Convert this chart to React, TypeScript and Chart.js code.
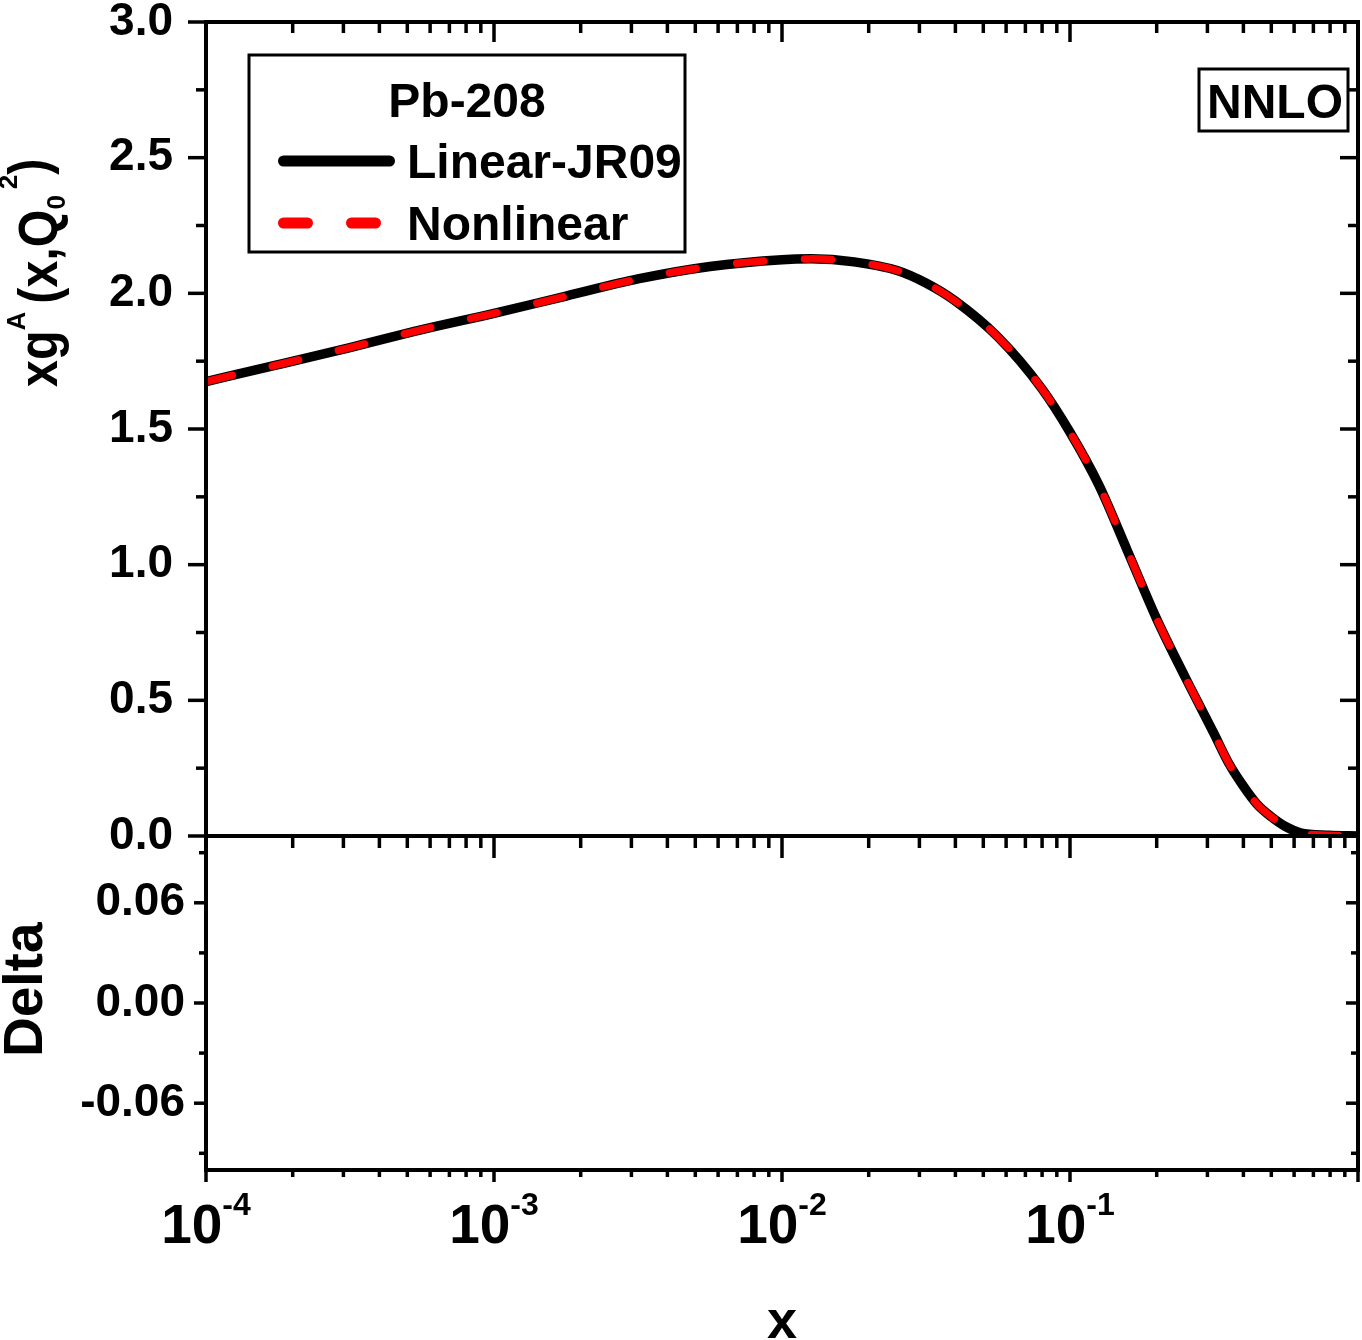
import { useEffect, useRef } from "react"
import Chart from "chart.js/auto"

const FONT = '"Liberation Sans", Arial, Helvetica, sans-serif'
const WIDTH = 1362
const HEIGHT = 1340

// curve (x on a log axis)
const xValues = [
  1e-4, 1.78e-4, 3.16e-4, 5.62e-4, 1e-3, 1.78e-3, 3.16e-3, 5.62e-3, 0.01, 0.0126,
  0.0178, 0.0251, 0.0316, 0.0398, 0.0562, 0.0794, 0.1, 0.126, 0.158, 0.2, 0.251,
  0.316, 0.355, 0.398, 0.447, 0.501, 0.562, 0.631, 0.794, 1.0,
]
const linearValues = [
  1.675, 1.737, 1.8, 1.866, 1.926, 1.99, 2.053, 2.099, 2.124, 2.127,
  2.116, 2.084, 2.038, 1.973, 1.839, 1.652, 1.488, 1.293, 1.053, 0.8, 0.586,
  0.378, 0.27, 0.187, 0.116, 0.07, 0.034, 0.012, 0.003, 0.0,
]
const nonlinearValues = [
  1.675, 1.737, 1.8, 1.866, 1.926, 1.99, 2.053, 2.099, 2.124, 2.127,
  2.116, 2.084, 2.038, 1.973, 1.839, 1.652, 1.488, 1.293, 1.053, 0.8, 0.586,
  0.378, 0.27, 0.187, 0.116, 0.07, 0.034, 0.012, 0.003, 0.0,
]

const seriesLabels = ["Linear-JR09", "Nonlinear"]
const legendTitle = "Pb-208"
const orderLabel = "NNLO"

const xMajorTicks = [1e-4, 1e-3, 1e-2, 1e-1, 1]
const xLabelExponents = ["-4", "-3", "-2", "-1"]
const xMinorMultipliers = [2, 3, 4, 5, 6, 7, 8, 9]
const xMinorTicks = xMajorTicks.slice(0, -1).flatMap((d) => xMinorMultipliers.map((m) => m * d))

const gluonMajorTicks = [0, 0.5, 1, 1.5, 2, 2.5, 3]
const gluonMinorTicks = [0.25, 0.75, 1.25, 1.75, 2.25, 2.75]
const deltaMajorTicks = [-0.06, 0, 0.06]
const deltaMinorTicks = [-0.09, -0.03, 0.03, 0.09]

interface TickLen {
  major: number
  minor: number
}

interface FrameSpec {
  yMajor: number[]
  yMinor: number[]
  left: TickLen
  right: TickLen
  top?: TickLen
  bottom: TickLen
}

function drawFrame(chart: Chart, spec: FrameSpec) {
  const { ctx, chartArea: a } = chart
  const xs = chart.scales.x
  const ys = chart.scales.y
  ctx.save()
  ctx.strokeStyle = "#000"
  ctx.lineWidth = 3.5
  ctx.lineCap = "butt"
  const seg = (x1: number, y1: number, x2: number, y2: number) => {
    ctx.beginPath()
    ctx.moveTo(x1, y1)
    ctx.lineTo(x2, y2)
    ctx.stroke()
  }
  const yGroups: [number[], keyof TickLen][] = [
    [spec.yMajor, "major"],
    [spec.yMinor, "minor"],
  ]
  for (const [vals, kind] of yGroups) {
    for (const v of vals) {
      const py = ys.getPixelForValue(v)
      seg(a.left, py, a.left - spec.left[kind], py)
      seg(a.right, py, a.right - spec.right[kind], py)
    }
  }
  const xGroups: [number[], keyof TickLen][] = [
    [xMajorTicks, "major"],
    [xMinorTicks, "minor"],
  ]
  for (const [vals, kind] of xGroups) {
    for (const v of vals) {
      const px = xs.getPixelForValue(v)
      if (spec.top) seg(px, a.top, px, a.top + spec.top[kind])
      seg(px, a.bottom, px, a.bottom + spec.bottom[kind])
    }
  }
  ctx.lineWidth = 4
  ctx.strokeRect(a.left, a.top, a.right - a.left, a.bottom - a.top)
  ctx.restore()
}

interface TitlePart {
  text: string
  size: number
  shift: number
  squeeze?: number
  gap?: number
}

// rotated y title with super/subscripts
function drawRotatedParts(ctx: CanvasRenderingContext2D, parts: TitlePart[], x: number, y: number) {
  ctx.save()
  ctx.translate(x, y)
  ctx.rotate(-Math.PI / 2)
  ctx.fillStyle = "#000"
  ctx.textAlign = "left"
  ctx.textBaseline = "alphabetic"
  let cx = 0
  for (const p of parts) {
    cx += p.gap ?? 0
    const sq = p.squeeze ?? 1
    ctx.font = `bold ${p.size}px ${FONT}`
    ctx.save()
    ctx.translate(cx, p.shift)
    ctx.scale(sq, 1)
    ctx.fillText(p.text, 0, 0)
    ctx.restore()
    cx += ctx.measureText(p.text).width * sq
  }
  ctx.restore()
}

const topDecor = {
  id: "topDecor",
  afterDraw(chart: Chart) {
    drawFrame(chart, {
      yMajor: gluonMajorTicks,
      yMinor: gluonMinorTicks,
      left: { major: 18, minor: 10 },
      right: { major: 18, minor: 10 },
      top: { major: 20, minor: 11 },
      bottom: { major: 22, minor: 12 },
    })
    const { ctx, chartArea: a } = chart
    ctx.save()
    ctx.fillStyle = "#000"
    ctx.strokeStyle = "#000"

    // legend
    const bx = a.left + 43
    const by = a.top + 33
    const bw = 436
    const bh = 197
    ctx.fillStyle = "#fff"
    ctx.fillRect(bx, by, bw, bh)
    ctx.lineWidth = 3
    ctx.strokeRect(bx, by, bw, bh)
    ctx.fillStyle = "#000"
    ctx.font = `bold 48px ${FONT}`
    ctx.textAlign = "center"
    ctx.textBaseline = "alphabetic"
    ctx.fillText(legendTitle, bx + bw / 2, by + 62)
    ctx.textAlign = "left"
    const rows = [
      { ds: chart.data.datasets[1] as any, lineY: by + 106, textY: by + 123 },
      { ds: chart.data.datasets[0] as any, lineY: by + 168, textY: by + 185 },
    ]
    for (const r of rows) {
      ctx.save()
      ctx.strokeStyle = r.ds.borderColor
      ctx.lineWidth = 11
      ctx.lineCap = "round"
      ctx.setLineDash(r.ds.borderDash ? [24, 44] : [])
      ctx.beginPath()
      ctx.moveTo(bx + 34.5, r.lineY)
      ctx.lineTo(bx + 140.5, r.lineY)
      ctx.stroke()
      ctx.restore()
      ctx.fillText(r.ds.label, bx + 158, r.textY)
    }

    // order label
    const nx = a.right - 159
    const ny = a.top + 47
    ctx.lineWidth = 3
    ctx.strokeRect(nx, ny, 149, 62)
    ctx.textAlign = "center"
    ctx.font = `bold 48px ${FONT}`
    ctx.fillText(orderLabel, nx + 76, a.top + 96)
    ctx.restore()

    drawRotatedParts(
      ctx,
      [
        { text: "xg", size: 55, shift: 0, squeeze: 0.88 },
        { text: "A", size: 26, shift: -32 },
        { text: "(x,Q", size: 55, shift: 0, squeeze: 0.88, gap: 8 },
        { text: "0", size: 26, shift: 8 },
        { text: "2", size: 26, shift: -40, gap: 6 },
        { text: ")", size: 55, shift: -10, squeeze: 0.88 },
      ],
      57,
      387
    )
  },
}

const bottomDecor = {
  id: "bottomDecor",
  afterDraw(chart: Chart) {
    drawFrame(chart, {
      yMajor: deltaMajorTicks,
      yMinor: deltaMinorTicks,
      left: { major: 12, minor: 7 },
      right: { major: 12, minor: 7 },
      bottom: { major: 12, minor: 7 },
    })
    const { ctx, chartArea: a } = chart
    const xs = chart.scales.x
    ctx.save()
    ctx.fillStyle = "#000"
    ctx.textAlign = "left"
    ctx.textBaseline = "alphabetic"
    xLabelExponents.forEach((exp, i) => {
      const px = xs.getPixelForValue(xMajorTicks[i])
      ctx.font = `bold 55px ${FONT}`
      const w1 = ctx.measureText("10").width
      ctx.font = `bold 32px ${FONT}`
      const w2 = ctx.measureText(exp).width
      const x0 = px - (w1 + w2) / 2
      ctx.font = `bold 55px ${FONT}`
      ctx.fillText("10", x0, a.bottom + 73)
      ctx.font = `bold 32px ${FONT}`
      ctx.fillText(exp, x0 + w1, a.bottom + 45)
    })
    ctx.font = `bold 54px ${FONT}`
    ctx.textAlign = "center"
    ctx.fillText("x", (a.left + a.right) / 2, a.bottom + 168)
    ctx.restore()

    drawRotatedParts(ctx, [{ text: "Delta", size: 55, shift: 0 }], 42, 1057)
  },
}

const tickFont = { family: FONT, size: 46, weight: "bold" as const, lineHeight: 1 }

function fixedAxis(scale: any) {
  scale.width = 206
  scale.paddingTop = 0
  scale.paddingBottom = 0
}

export default function App() {
  const topRef = useRef<HTMLCanvasElement>(null)
  const bottomRef = useRef<HTMLCanvasElement>(null)

  useEffect(() => {
    if (!topRef.current || !bottomRef.current) return

    const topChart = new Chart(topRef.current, {
      type: "line",
      data: {
        datasets: [
          {
            label: seriesLabels[1],
            data: xValues.map((x, i) => ({ x, y: nonlinearValues[i] })),
            borderColor: "#ff0000",
            borderWidth: 7.5,
            borderDash: [27, 41],
            borderCapStyle: "round",
            pointRadius: 0,
            cubicInterpolationMode: "monotone",
            fill: false,
            order: 0,
          },
          {
            label: seriesLabels[0],
            data: xValues.map((x, i) => ({ x, y: linearValues[i] })),
            borderColor: "#000000",
            borderWidth: 9.5,
            pointRadius: 0,
            cubicInterpolationMode: "monotone",
            fill: false,
            order: 1,
          },
        ],
      },
      options: {
        responsive: false,
        animation: false,
        events: [],
        layout: { padding: { left: 0, right: 4, top: 22, bottom: HEIGHT - 836 } },
        plugins: {
          legend: { display: false },
          tooltip: { enabled: false },
        },
        scales: {
          x: { type: "logarithmic", min: 1e-4, max: 1, display: false },
          y: {
            min: 0,
            max: 3,
            afterFit: fixedAxis,
            grid: { display: false, drawTicks: false },
            border: { display: false },
            ticks: {
              stepSize: 0.5,
              padding: 33,
              color: "#000",
              font: tickFont,
              callback: (v) => Number(v).toFixed(1),
            },
          },
        },
      },
      plugins: [topDecor],
    })

    const bottomChart = new Chart(bottomRef.current, {
      type: "line",
      data: { datasets: [] },
      options: {
        responsive: false,
        animation: false,
        events: [],
        layout: { padding: { left: 0, right: 4, top: 836, bottom: HEIGHT - 1170 } },
        plugins: {
          legend: { display: false },
          tooltip: { enabled: false },
        },
        scales: {
          x: { type: "logarithmic", min: 1e-4, max: 1, display: false },
          y: {
            min: -0.1,
            max: 0.1,
            afterFit: fixedAxis,
            grid: { display: false, drawTicks: false },
            border: { display: false },
            ticks: {
              stepSize: 0.06,
              includeBounds: false,
              padding: 21,
              color: "#000",
              font: tickFont,
              callback: (v) => (Math.abs(Number(v)) < 1e-9 ? "0.00" : Number(v).toFixed(2)),
            },
          },
        },
      },
      plugins: [bottomDecor],
    })

    return () => {
      topChart.destroy()
      bottomChart.destroy()
    }
  }, [])

  return (
    <div style={{ position: "absolute", left: 0, top: 0, width: WIDTH, height: HEIGHT, background: "#fff" }}>
      <canvas
        ref={topRef}
        width={WIDTH}
        height={HEIGHT}
        style={{ position: "absolute", left: 0, top: 0, width: WIDTH, height: HEIGHT }}
      />
      <canvas
        ref={bottomRef}
        width={WIDTH}
        height={HEIGHT}
        style={{ position: "absolute", left: 0, top: 0, width: WIDTH, height: HEIGHT }}
      />
    </div>
  )
}
